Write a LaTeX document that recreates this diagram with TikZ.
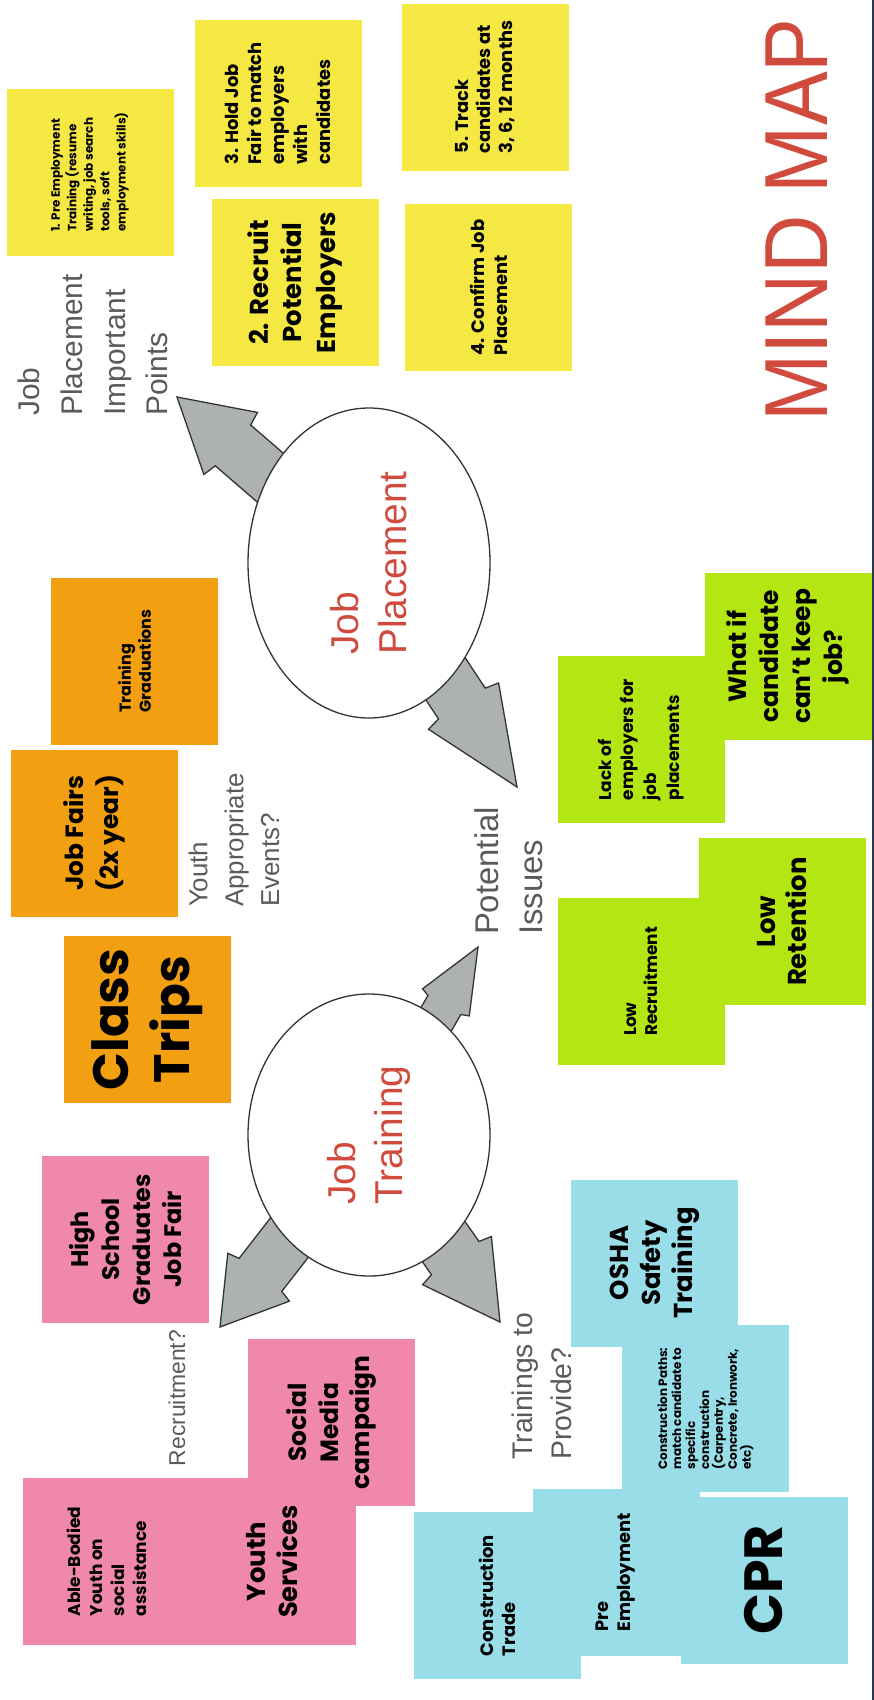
\documentclass[tikz,border=0pt]{standalone}
\usepackage{fontspec}
\setmainfont{Poppins}
\newfontfamily\labelfont{Liberation Sans}
\usepackage{tikz}
\usetikzlibrary{shapes,calc}

\definecolor{noteyellow}{HTML}{F5E843}
\definecolor{noteorange}{HTML}{F29F12}
\definecolor{notepink}{HTML}{EF88A9}
\definecolor{notegreen}{HTML}{B4E614}
\definecolor{notecyan}{HTML}{98DDE7}
\definecolor{arrowgray}{HTML}{ADB1B1}
\definecolor{titlered}{HTML}{D04B3D}
\definecolor{labelgray}{HTML}{5A5A5A}
\definecolor{edgeblue}{HTML}{2B3650}

\pgfdeclarelayer{background}
\pgfsetlayers{background,main}

\tikzset{
  note/.style={rectangle,rotate=90,minimum width=167bp,minimum height=167bp,inner sep=0pt},
  yellow note/.style={note,fill=noteyellow},
  orange note/.style={note,fill=noteorange},
  pink note/.style={note,fill=notepink},
  green note/.style={note,fill=notegreen},
  cyan note/.style={note,fill=notecyan},
  hub/.style={draw=black!80,line width=1.3bp,fill=white,ellipse,rotate=90,inner sep=0pt,
    align=left,text=titlered,font=\labelfont\fontsize{39}{48}\selectfont},
  side label/.style={rotate=90,inner sep=0pt,align=left,text=labelgray},
  big arrow/.style={draw=black!80,line width=1.3bp,fill=arrowgray,line join=miter}
}

% block arrow: #1 hub, #2 tip, #3 head length, #4 half head width, #5 half shaft width
\newcommand{\blockarrow}[5]{%
  \coordinate (ah) at ($(#2)!#3!(#1.center)$);
  \coordinate (an) at ($(#2)!#3+3bp!(#1.center)$);
  \draw[big arrow] (#2) -- ($(ah)!#4!90:(#2)$) -- ($(an)!#5!90:(#2)$) -- ($(#1.center)!#5!90:(#2)$)
    -- ($(#1.center)!#5!-90:(#2)$) -- ($(an)!#5!-90:(#2)$) -- ($(ah)!#4!-90:(#2)$) -- cycle;}

\begin{document}
\begin{tikzpicture}

\useasboundingbox (0bp,0bp) rectangle (874bp,-1700bp);

% hubs
\node (JP) at (369bp,-563bp)[hub,minimum width=310bp,minimum height=242bp] {Job\\Placement};
\node (JT) at (369bp,-1135bp)[hub,minimum width=282bp,minimum height=242bp] {Job\\Training};

% labels
\node (points) at (93bp,-345bp)[side label,font=\labelfont\fontsize{30}{43}\selectfont] {Job\\Placement\\Important\\Points};
\node (events) at (234bp,-840bp)[side label,font=\labelfont\fontsize{26}{36}\selectfont] {Youth\\Appropriate\\Events?};
\node (issues) at (509bp,-871bp)[side label,font=\labelfont\fontsize{33}{44}\selectfont] {Potential\\Issues};
\node (recruit) at (177bp,-1398bp)[side label,font=\labelfont\fontsize{23}{30}\selectfont] {Recruitment?};
\node (provide) at (542bp,-1386bp)[side label,font=\labelfont\fontsize{28.5}{39}\selectfont] {Trainings to\\Provide?};
\node (title) at (797bp,-220bp)[rotate=90,inner sep=0pt,text=titlered,font=\labelfont\fontsize{90}{90}\selectfont] {\scalebox{0.9}[1]{MIND MAP}};

% arrows
\coordinate (tip1) at (177bp,-397bp);
\coordinate (tip2) at (517bp,-787bp);
\coordinate (tip3) at (478bp,-947bp);
\coordinate (tip4) at (220bp,-1327bp);
\coordinate (tip5) at (500bp,-1322bp);
\begin{pgfonlayer}{background}
\blockarrow{JP}{tip1}{71bp}{41bp}{27bp}
\blockarrow{JP}{tip2}{97bp}{42bp}{28bp}
\blockarrow{JT}{tip3}{64bp}{27bp}{19bp}
\blockarrow{JT}{tip4}{63bp}{39bp}{27bp}
\blockarrow{JT}{tip5}{75bp}{42bp}{29bp}
\end{pgfonlayer}

% job placement points
\node (Y1) at (90bp,-172bp)[yellow note,align=left,font=\bfseries\fontsize{12}{16.5}\selectfont] {1. Pre Employment\\Training (resume\\writing, job search\\tools, soft\\employment skills)};
\node (Y3) at (278bp,-103.5bp)[yellow note,align=left,font=\bfseries\fontsize{18}{23}\selectfont] {3. Hold Job\\Fair to match\\employers\\with\\candidates};
\node (Y5) at (485bp,-87bp)[yellow note,align=left,font=\bfseries\fontsize{18}{22}\selectfont] {5. Track\\candidates at\\3, 6, 12 months};
\node (Y2) at (295bp,-282.5bp)[yellow note,align=center,font=\bfseries\fontsize{26}{34}\selectfont] {2. Recruit\\Potential\\Employers};
\node (Y4) at (488.5bp,-287.5bp)[yellow note,align=left,font=\bfseries\fontsize{18}{23}\selectfont] {4. Confirm Job\\Placement};

% events
\node (O1) at (134.5bp,-661bp)[orange note,align=left,font=\bfseries\fontsize{16}{20}\selectfont] {Training\\Graduations};
\node (O2) at (94bp,-833bp)[orange note,align=center,font=\bfseries\fontsize{25}{35}\selectfont] {Job Fairs\\(2x year)};
\node (O3) at (147bp,-1019.5bp)[orange note,align=center,font=\bfseries\fontsize{50}{61}\selectfont] {Class\\Trips};

% recruitment
\node (P1) at (125.5bp,-1239.5bp)[pink note,align=center,font=\bfseries\fontsize{24}{31}\selectfont] {High\\School\\Graduates\\Job Fair};
\node (P3) at (106.5bp,-1561.5bp)[pink note,align=left,font=\bfseries\fontsize{17}{22}\selectfont] {Able-Bodied\\Youth on\\social\\assistance};
\node (P4) at (272bp,-1561.5bp)[pink note,align=center,font=\bfseries\fontsize{26}{32}\selectfont] {Youth\\Services};
\node (P2) at (331.5bp,-1422.5bp)[pink note,align=center,font=\bfseries\fontsize{25}{32}\selectfont] {Social\\Media\\campaign};

% trainings
\node (C1) at (654.5bp,-1263bp)[cyan note,align=center,font=\bfseries\fontsize{26}{32}\selectfont] {OSHA\\Safety\\Training};
\node (C2) at (705.5bp,-1408.5bp)[cyan note,align=left,font=\bfseries\fontsize{12}{14}\selectfont] {Construction Paths:\\match candidate to\\specific\\construction\\(Carpentry,\\Concrete, Ironwork,\\etc)};
\node (C3) at (497.5bp,-1595.5bp)[cyan note,align=left,font=\bfseries\fontsize{18}{22}\selectfont] {Construction\\Trade};
\node (C4) at (616bp,-1572.5bp)[cyan note,align=left,font=\bfseries\fontsize{18}{22}\selectfont] {Pre\\Employment};
\node (C5) at (764bp,-1580bp)[cyan note,font=\bfseries\fontsize{54}{60}\selectfont] {CPR};

% issues
\node (G1) at (788bp,-656.5bp)[green note,align=center,font=\bfseries\fontsize{25}{32}\selectfont] {What if\\candidate\\can't keep\\job?};
\node (G2) at (641bp,-739.5bp)[green note,align=left,font=\bfseries\fontsize{17}{23}\selectfont] {Lack of\\employers for\\job\\placements};
\node (G3) at (782bp,-921.5bp)[green note,align=center,font=\bfseries\fontsize{26}{32}\selectfont] {Low\\Retention};
\node (G4) at (641bp,-981.5bp)[green note,align=left,font=\bfseries\fontsize{17}{21}\selectfont] {Low\\Recruitment};

\draw [edgeblue,line width=1.5bp] (873bp,0bp) -- (873bp,-1700bp);
\end{tikzpicture}
\end{document}
